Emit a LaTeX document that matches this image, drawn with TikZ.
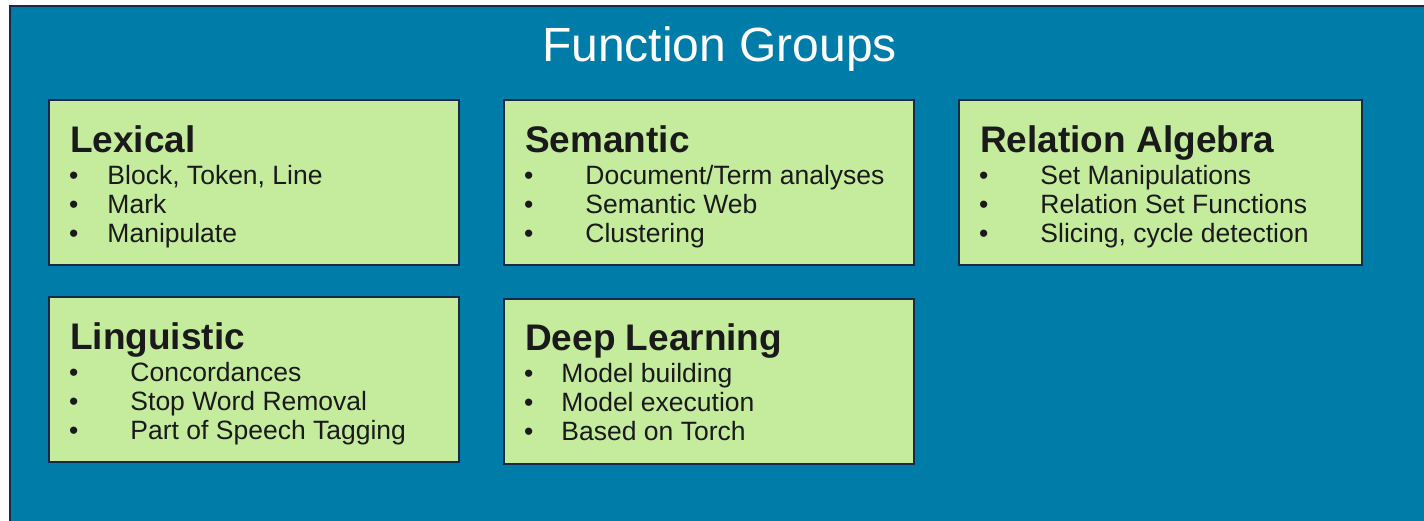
\documentclass[tikz,border=0pt]{standalone}
\usepackage{fontspec}
\setmainfont{Liberation Sans}
\usepackage{tikz}
\usetikzlibrary{positioning}

\definecolor{fgblue}{RGB}{0,124,168}
\definecolor{fggreen}{RGB}{197,235,157}
\definecolor{fgnavy}{RGB}{28,40,74}
\definecolor{fgtext}{RGB}{26,26,26}

\begin{document}
\begin{tikzpicture}[
    x=1pt, y=-1pt,
    group/.style={rectangle, draw=fgnavy, line width=1.2pt, fill=fggreen, minimum width=410pt, minimum height=165pt, inner sep=0pt, outer sep=0pt},
    head/.style={font=\fontsize{37}{44}\selectfont\bfseries, text=fgtext, inner sep=0pt},
    item/.style={font=\fontsize{26.5}{31}\selectfont, text=fgtext, inner sep=0pt},
    ]
    \useasboundingbox (0,0) rectangle (1424,520);
    \clip (0,0) rectangle (1424,520);
    % Background panel
    \draw[fill=fgblue, draw=fgnavy, line width=2pt] (10,6) rectangle (1450,550);
    % Title
    \node[font=\fontsize{48}{58}\selectfont, text=white, inner sep=0pt, anchor=base] (title) at (719.5,61) {Function Groups};

    % Top row of groups
    \node[group] (lexical) at (254,182.5) {};
    \node[group, right=45pt of lexical] (semantic) {};
    \node[group, minimum width=403pt, right=45pt of semantic] (relalg) {};
    % Bottom row of groups
    \node[group, below=32pt of lexical] (linguistic) {};
    \node[group, below=34pt of semantic] (deeplearn) {};

    % Lexical
    \node[head, below right=52pt and 21pt of lexical.north west, anchor=base west] (lexical-h) {Lexical};
    \node[item, below=32pt of lexical-h.base west, anchor=base west, xshift=-1pt] (lexical-1) {\textbullet\hspace{29pt}Block, Token, Line};
    \node[item, below=29pt of lexical-1.base west, anchor=base west] (lexical-2) {\textbullet\hspace{29pt}Mark};
    \node[item, below=29pt of lexical-2.base west, anchor=base west] (lexical-3) {\textbullet\hspace{29pt}Manipulate};

    % Semantic
    \node[head, below right=52pt and 21pt of semantic.north west, anchor=base west] (semantic-h) {Semantic};
    \node[item, below=32pt of semantic-h.base west, anchor=base west, xshift=-1pt] (semantic-1) {\textbullet\hspace{52pt}Document/Term analyses};
    \node[item, below=29pt of semantic-1.base west, anchor=base west] (semantic-2) {\textbullet\hspace{52pt}Semantic Web};
    \node[item, below=29pt of semantic-2.base west, anchor=base west] (semantic-3) {\textbullet\hspace{52pt}Clustering};

    % Relation Algebra
    \node[head, below right=52pt and 21pt of relalg.north west, anchor=base west] (relalg-h) {Relation Algebra};
    \node[item, below=32pt of relalg-h.base west, anchor=base west, xshift=-1pt] (relalg-1) {\textbullet\hspace{52pt}Set Manipulations};
    \node[item, below=29pt of relalg-1.base west, anchor=base west] (relalg-2) {\textbullet\hspace{52pt}Relation Set Functions};
    \node[item, below=29pt of relalg-2.base west, anchor=base west] (relalg-3) {\textbullet\hspace{52pt}Slicing, cycle detection};

    % Linguistic
    \node[head, below right=52pt and 21pt of linguistic.north west, anchor=base west] (linguistic-h) {Linguistic};
    \node[item, below=32pt of linguistic-h.base west, anchor=base west, xshift=-1pt] (linguistic-1) {\textbullet\hspace{52pt}Concordances};
    \node[item, below=29pt of linguistic-1.base west, anchor=base west] (linguistic-2) {\textbullet\hspace{52pt}Stop Word Removal};
    \node[item, below=29pt of linguistic-2.base west, anchor=base west] (linguistic-3) {\textbullet\hspace{52pt}Part of Speech Tagging};

    % Deep Learning
    \node[head, below right=51pt and 21pt of deeplearn.north west, anchor=base west] (deeplearn-h) {Deep Learning};
    \node[item, below=32pt of deeplearn-h.base west, anchor=base west, xshift=-1pt] (deeplearn-1) {\textbullet\hspace{28pt}Model building};
    \node[item, below=29pt of deeplearn-1.base west, anchor=base west] (deeplearn-2) {\textbullet\hspace{28pt}Model execution};
    \node[item, below=29pt of deeplearn-2.base west, anchor=base west] (deeplearn-3) {\textbullet\hspace{28pt}Based on Torch};
\end{tikzpicture}
\end{document}
